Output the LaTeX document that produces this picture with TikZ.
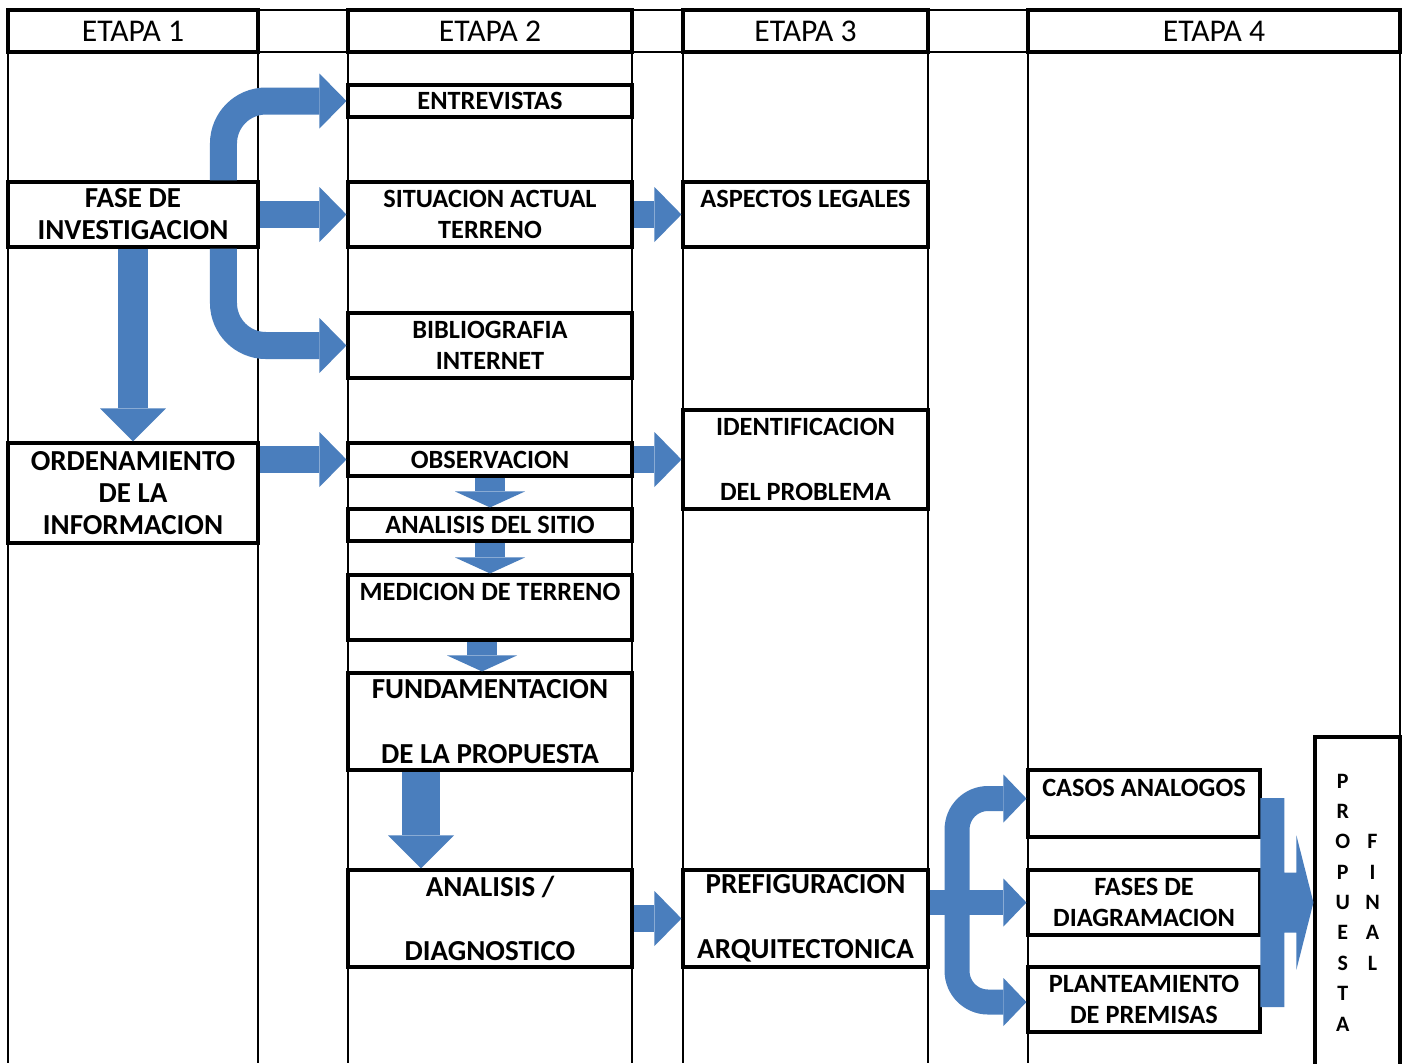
\documentclass[tikz,border=0pt]{standalone}
\usepackage{fontspec}
\setmainfont{Carlito}
\usetikzlibrary{arrows.meta,calc}
\definecolor{flowblue}{RGB}{74,126,189}
\tikzset{every node/.style={inner sep=0pt, align=center},
  grid/.style={black, line width=0.7pt},
  head/.style={draw, line width=1.8pt, fill=white, minimum height=0.84cm, font=\fontsize{18}{20}\selectfont},
  box/.style={draw, line width=1.8pt, fill=white, font=\fontsize{15}{17.8}\selectfont\bfseries},
  bigbox/.style={box, font=\fontsize{16.5}{18.2}\selectfont\bfseries},
  c1/.style={minimum width=5cm}, c2/.style={minimum width=5.68cm},
  c3/.style={minimum width=4.9cm}, c4/.style={minimum width=4.64cm},
  flow/.style={flowblue, line width=0.54cm, -{Triangle[width=1.1cm,length=0.54cm,line width=0pt]}},
  flowdown/.style={flowblue, line width=0.6cm, -{Triangle[width=1.4cm,length=0.32cm,line width=0pt]}},
  flowbig/.style={flowblue, line width=0.62cm, -{Triangle[width=1.32cm,length=0.66cm,line width=0pt]}},
  flowsm/.style={flowblue, line width=0.5cm, -{Triangle[width=0.96cm,length=0.46cm,line width=0pt]}}}

\begin{document}
\begin{tikzpicture}[x=0.02cm,y=-0.02cm]
   \fill[white] (0,0) rectangle (1409,1063);
   \useasboundingbox (0,0) rectangle (1409,1063);
   \foreach \x in {8,258,348,632,683,928,1028,1400} \draw[grid] (\x,10) -- (\x,1063);
   \draw[grid] (8,10) -- (1400,10) (8,52) -- (1400,52);

   \node[head,c1] (e1) at (133,31) {ETAPA 1};
   \node[head,c2] (e2) at (490,31) {ETAPA 2};
   \node[head,c3] (e3) at (805.5,31) {ETAPA 3};
   \node[head,minimum width=7.44cm] (e4) at (1214,31) {ETAPA 4};

   \node[box,c2,minimum height=0.64cm] (entr) at (490,101) {ENTREVISTAS};
   \node[bigbox,c1,minimum height=1.3cm] (fase) at (133,214.5) {FASE DE\\INVESTIGACION};
   \node[box,c2,minimum height=1.3cm] (sit) at (490,214.5) {SITUACION ACTUAL\\TERRENO};
   \node[box,c3,minimum height=1.3cm] (asp) at (805.5,214.5) {ASPECTOS LEGALES\\~};
   \node[box,c2,minimum height=1.3cm] (bib) at (490,345.5) {BIBLIOGRAFIA\\INTERNET};
   \node[box,c3,minimum height=1.98cm] (iden) at (805.5,459.5) {IDENTIFICACION\\[19pt]DEL PROBLEMA};
   \node[bigbox,c1,minimum height=2cm] (orden) at (133,493) {ORDENAMIENTO\\DE LA\\INFORMACION};
   \node[box,c2,minimum height=0.66cm] (obs) at (490,459.5) {OBSERVACION};
   \node[box,c2,minimum height=0.64cm] (anal) at (490,525) {ANALISIS DEL SITIO};
   \node[box,c2,minimum height=1.3cm] (med) at (490,607.5) {MEDICION DE TERRENO\\~};
   \node[bigbox,c2,minimum height=1.94cm] (fund) at (490,721.5) {FUNDAMENTACION\\[18.6pt]DE LA PROPUESTA};
   \node[bigbox,c2,minimum height=1.94cm] (diag) at (490,918.5) {ANALISIS /\\[18.6pt]DIAGNOSTICO};
   \node[bigbox,c3,minimum height=1.94cm] (pref) at (805.5,918.5) {PREFIGURACION\\[18.6pt]ARQUITECTONICA};
   \node[box,c4,minimum height=1.34cm] (casos) at (1144,803.5) {CASOS ANALOGOS\\~};
   \node[box,c4,minimum height=1.3cm] (fases) at (1144,902.5) {FASES DE\\DIAGRAMACION};
   \node[box,c4,minimum height=1.3cm] (plan) at (1144,999.5) {PLANTEAMIENTO\\DE PREMISAS};
   \node[box,minimum width=1.7cm,minimum height=6.66cm,font=\fontsize{12.5}{17.3}\selectfont\bfseries]
     (prop) at (1357.5,903.5)
     {\begin{tabular}{@{}c@{\hspace{8.6pt}}c@{}}P&\\R&\\O&F\\P&I\\U&N\\E&A\\S&L\\T&\\A&\end{tabular}};

   \draw[flow, rounded corners=0.85cm] ([xshift=1.81cm]fase.north) |- (entr.west);
   \draw[flow, rounded corners=0.85cm] ([xshift=1.81cm]fase.south) |- (bib.west);
   \draw[flow] (fase.east) -- (sit.west);
   \draw[flowbig] (fase.south) -- (orden.north);
   \draw[flow] (orden.east |- obs.west) -- (obs.west);
   \draw[flow] (sit.east) -- (asp.west);
   \draw[flow] (obs.east) -- (iden.west);
   \draw[flowdown] (obs.south) -- (anal.north);
   \draw[flowdown] (anal.south) -- (med.north);
   \draw[flowdown] ([xshift=-0.16cm]med.south) -- ([xshift=-0.16cm]fund.north);
   \draw[flowbig, line width=0.76cm] ([xshift=-1.38cm]fund.south) -- ([xshift=-1.38cm]diag.north);
   \draw[flow] (diag.east) -- (pref.west);

   \coordinate (split) at ($(pref.east |- fases.west)+(27.5,0)$);
   \draw[flowsm] (pref.east |- fases.west) -- (fases.west);
   \draw[flowsm, rounded corners=0.62cm] (split) |- ([yshift=0.1cm]casos.west);
   \draw[flowsm, rounded corners=0.62cm] (split) |- ([yshift=-0.05cm]plan.west);

   \coordinate (tip) at (prop.west |- fases.east);
   \fill[flowblue] (tip) -- ++(-17,-67) -- ++(0,37) -- ++(-12,0) -- ++(0,-74.5) -- ++(-24,0)
     -- ++(0,209) -- ++(24,0) -- ++(0,-74.5) -- ++(12,0) -- ++(0,37) -- cycle;
\end{tikzpicture}
\end{document}
